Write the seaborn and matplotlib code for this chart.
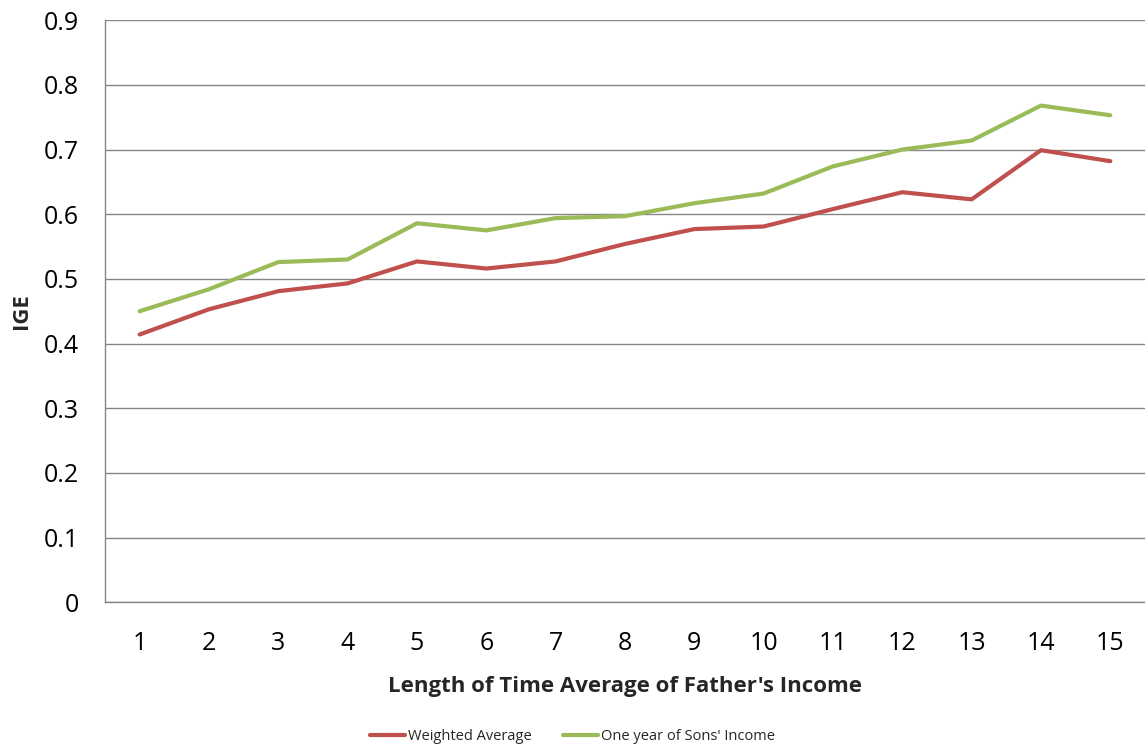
import pandas as pd
import numpy as np
import matplotlib.pyplot as plt
import seaborn as sns

sns.set_theme(style="white")
plt.rcParams['font.family'] = ['Open Sans', 'DejaVu Sans']

# Data
years = list(range(1, 16))
weighted_avg = [0.414, 0.453, 0.481, 0.493, 0.527, 0.516, 0.527, 0.554,
                0.577, 0.581, 0.608, 0.634, 0.623, 0.699, 0.682]
one_year = [0.450, 0.484, 0.526, 0.530, 0.586, 0.575, 0.594, 0.597,
            0.617, 0.632, 0.674, 0.700, 0.714, 0.768, 0.753]
series_names = ["Weighted Average", "One year of Sons' Income"]

df = pd.DataFrame({
    'length': years * 2,
    'ige': weighted_avg + one_year,
    'series': [series_names[0]] * len(years) + [series_names[1]] * len(years),
})

fig = plt.figure(figsize=(11.45, 7.49), dpi=100)
ax = fig.add_axes([0.0917, 0.196, 0.9083, 0.777])

sns.lineplot(data=df, x='length', y='ige', hue='series', ax=ax,
             palette=['#C0504D', '#9BBB59'], linewidth=3, legend=False)

ax.set_xlim(0.5, 15.5)
ax.set_ylim(0, 0.9)
ax.set_xticks(years)
ax.set_yticks(np.arange(0, 0.91, 0.1))
ax.set_yticklabels(['0'] + [f'{v:.1f}' for v in np.arange(0.1, 0.91, 0.1)])
ax.tick_params(axis='both', length=0, labelsize=18, colors='black')
ax.tick_params(axis='x', pad=21)
ax.tick_params(axis='y', pad=19)
ax.grid(axis='y', color='#868686', linewidth=1)
ax.set_axisbelow(True)

for side in ['top', 'right']:
    ax.spines[side].set_visible(False)
for side in ['left', 'bottom']:
    ax.spines[side].set_color('#868686')
    ax.spines[side].set_linewidth(1)

ax.set_xlabel("Length of Time Average of Father's Income", fontsize=16,
              fontweight='bold', labelpad=14)
ax.set_ylabel('IGE', fontsize=16, fontweight='bold', labelpad=8)

handles = [plt.Line2D([], [], color=c, linewidth=3) for c in ['#C0504D', '#9BBB59']]
fig.legend(handles, series_names, loc='center', bbox_to_anchor=(0.5, 0.017),
           ncol=2, frameon=False, fontsize=10.5, handlelength=2.4,
           columnspacing=2.2, handletextpad=0.15)

fig.savefig('out.png', dpi=100)
